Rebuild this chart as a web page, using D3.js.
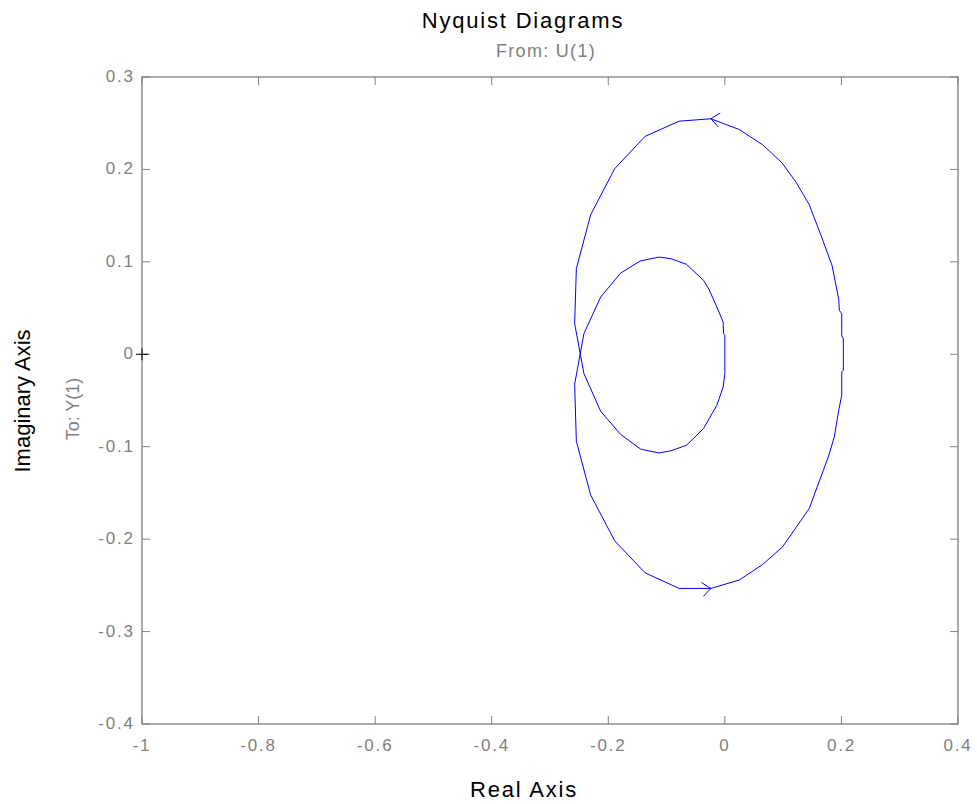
<!DOCTYPE html>
<html>
<head>
<meta charset="utf-8">
<script src="https://cdn.jsdelivr.net/npm/d3@7"></script>
<style>
  body { margin: 0; background: #fff; }
  text { font-family: "Liberation Sans", Arial, sans-serif; }
</style>
</head>
<body>
<svg id="chart"></svg>
<script>
// branch for w = 0 .. +inf (real, imag)
const posReal = [0.2033, 0.2033, 0.2005, 0.2005, 0.1964, 0.1954, 0.189, 0.1838, 0.165, 0.1448, 0.122, 0.0979, 0.0648, 0.0246, -0.024, -0.0785, -0.137, -0.189, -0.2302, -0.2548, -0.2577,
                 -0.2418, -0.2131, -0.1787, -0.1443, -0.1129, -0.0928, -0.0658, -0.0366, -0.0137, -0.0029, 0.0];
const posImag = [0.0, 0.017, 0.0198, 0.044, 0.0476, 0.0595, 0.08, 0.0962, 0.1286, 0.1618, 0.1863, 0.2072, 0.2267, 0.2432, 0.2548, 0.2522, 0.2357, 0.2008, 0.151, 0.0926, 0.0332,
                 -0.0209, -0.0616, -0.0868, -0.1027, -0.1067, -0.1045, -0.0984, -0.0803, -0.0551, -0.0354, -0.0209];
// branch for w = 0 .. -inf
const negReal = [0.2033, 0.2033, 0.2005, 0.2005, 0.1954, 0.1878, 0.1775, 0.1448, 0.0991, 0.0648, 0.0246, -0.024, -0.0785, -0.137, -0.189, -0.2302, -0.2548, -0.2577,
                 -0.2418, -0.2131, -0.1787, -0.1455, -0.1129, -0.0928, -0.0658, -0.0366, -0.027, -0.0137, -0.0029, -0.0022, 0.0];
const negImag = [0.0, -0.0173, -0.0191, -0.0443, -0.0605, -0.0894, -0.111, -0.1668, -0.2083, -0.2274, -0.2443, -0.2533, -0.2533, -0.2364, -0.2018, -0.1524, -0.0941, -0.0324,
                 0.0224, 0.0619, 0.0879, 0.1009, 0.1052, 0.1035, 0.0973, 0.08, 0.07, 0.0511, 0.0349, 0.0224, 0.0205];
// arrow positions (index into branch)
const arrowPos = 14;   // top arrow, points along +w
const arrowNeg = 11;   // bottom arrow, points from -inf toward w = 0

const xTicks = [-1, -0.8, -0.6, -0.4, -0.2, 0, 0.2, 0.4];
const yTicks = [0.3, 0.2, 0.1, 0, -0.1, -0.2, -0.3, -0.4];

const W = 977, H = 804;
const m = { left: 142, right: 19, top: 77, bottom: 80 };
const axisColor = "#808080";

const svg = d3.select("#chart").attr("width", W).attr("height", H);

const x = d3.scaleLinear().domain([-1, 0.4]).range([m.left, W - m.right]);
const y = d3.scaleLinear().domain([-0.4, 0.3]).range([H - m.bottom, m.top]);

const g = svg.append("g");

// ticks (inside, all four sides)
const tickLen = 8;
const ls = 1.8; // tick label letter spacing
xTicks.forEach(t => {
  g.append("line").attr("x1", x(t)).attr("x2", x(t)).attr("y1", y(-0.4)).attr("y2", y(-0.4) - tickLen)
    .attr("stroke", axisColor);
  g.append("line").attr("x1", x(t)).attr("x2", x(t)).attr("y1", y(0.3)).attr("y2", y(0.3) + tickLen)
    .attr("stroke", axisColor);
  g.append("text").attr("x", x(t)).attr("y", y(-0.4) + 27).attr("text-anchor", "middle")
    .attr("font-size", 17).attr("fill", axisColor).attr("letter-spacing", ls).text(String(t));
});
yTicks.forEach(t => {
  g.append("line").attr("x1", x(-1)).attr("x2", x(-1) + tickLen).attr("y1", y(t)).attr("y2", y(t))
    .attr("stroke", axisColor);
  g.append("line").attr("x1", x(0.4)).attr("x2", x(0.4) - tickLen).attr("y1", y(t)).attr("y2", y(t))
    .attr("stroke", axisColor);
  g.append("text").attr("x", x(-1) - 9 + ls).attr("y", y(t) + 5).attr("text-anchor", "end")
    .attr("font-size", 17).attr("fill", axisColor).attr("letter-spacing", ls).text(String(t));
});

// box
g.append("rect").attr("x", x(-1)).attr("y", y(0.3))
  .attr("width", x(0.4) - x(-1)).attr("height", y(-0.4) - y(0.3))
  .attr("fill", "none").attr("stroke", axisColor).attr("stroke-width", 1.3);

// curves
const line = d3.line().x(d => x(d[0])).y(d => y(d[1]));
const pos = posReal.map((v, i) => [v, posImag[i]]);
const neg = negReal.map((v, i) => [v, negImag[i]]);
[pos, neg].forEach(b => {
  g.append("path").datum(b).attr("d", line).attr("fill", "none")
    .attr("stroke", "#0000ff").attr("stroke-width", 1);
});
// join the two ends at the origin
g.append("path").datum([pos[pos.length - 1], neg[neg.length - 1]]).attr("d", line)
  .attr("fill", "none").attr("stroke", "#0000ff").attr("stroke-width", 1);

// arrows
function arrow(b, i, sign) {
  const p = b[i], a = b[i - 1], c = b[i + 1];
  let dx = (x(c[0]) - x(a[0])) * sign, dy = (y(c[1]) - y(a[1])) * sign;
  const len = Math.hypot(dx, dy); dx /= len; dy /= len;
  const px = x(p[0]), py = y(p[1]);
  const back = 8.5, half = 7;
  const pts = [
    [px - dx * back - dy * half, py - dy * back + dx * half],
    [px, py],
    [px - dx * back + dy * half, py - dy * back - dx * half]
  ];
  g.append("path").attr("d", d3.line()(pts)).attr("fill", "none")
    .attr("stroke", "#0000ff").attr("stroke-width", 1);
}
arrow(pos, arrowPos, 1);
arrow(neg, arrowNeg, -1);

// critical point marker
g.append("path")
  .attr("d", `M${x(-1) - 6},${y(0)}H${x(-1) + 6}M${x(-1)},${y(0) - 6}V${y(0) + 6}`)
  .attr("stroke", "#000").attr("stroke-width", 1);

// texts
svg.append("text").attr("x", 523).attr("y", 28).attr("text-anchor", "middle")
  .attr("font-size", 22).attr("letter-spacing", 1.8).attr("fill", "#000").text("Nyquist Diagrams");
svg.append("text").attr("x", 546).attr("y", 56.5).attr("text-anchor", "middle")
  .attr("font-size", 18).attr("letter-spacing", 1.3).attr("fill", axisColor).text("From: U(1)");
svg.append("text").attr("x", 524).attr("y", 797).attr("text-anchor", "middle")
  .attr("font-size", 22).attr("letter-spacing", 1.8).attr("fill", "#000").text("Real Axis");
svg.append("text").attr("transform", "translate(29.5,401) rotate(-90)").attr("text-anchor", "middle")
  .attr("font-size", 22).attr("fill", "#000").text("Imaginary Axis");
svg.append("text").attr("transform", "translate(79,409) rotate(-90)").attr("text-anchor", "middle")
  .attr("font-size", 18).attr("fill", axisColor).text("To: Y(1)");
</script>
</body>
</html>
